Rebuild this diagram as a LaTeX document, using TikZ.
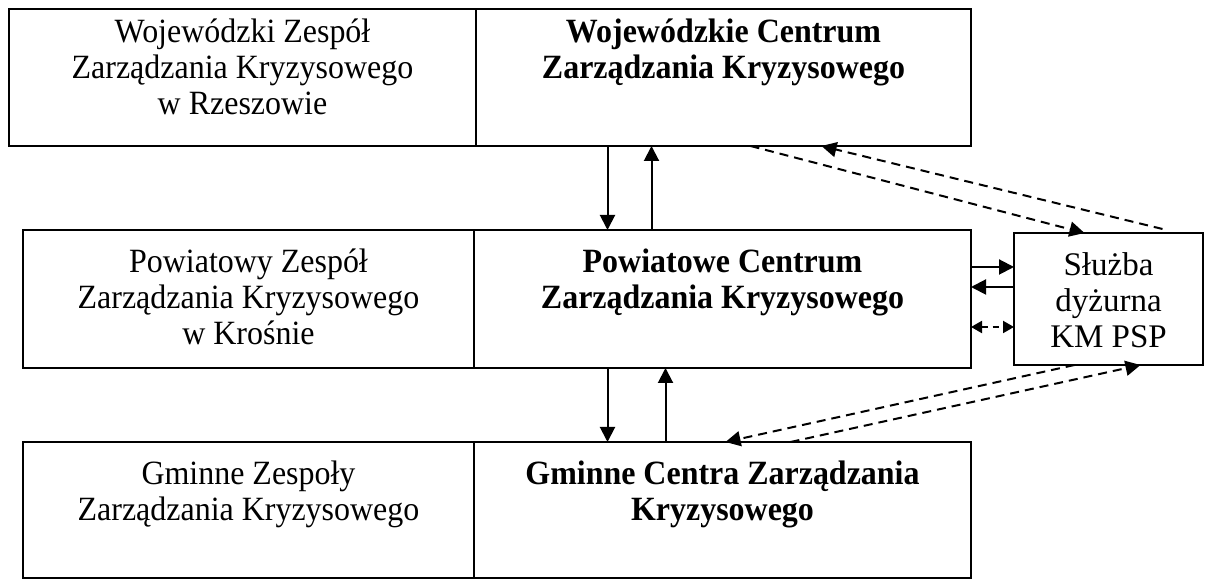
\documentclass[tikz,border=0pt]{standalone}
\usepackage{fontspec}
\setmainfont{Liberation Serif}
\newfontfamily\waski{Liberation Serif}[FakeStretch=0.94]
\usetikzlibrary{arrows.meta,positioning}

\begin{document}
\begin{tikzpicture}[x=1pt,y=1pt,
	blok/.style={draw, line width=2pt, inner sep=0pt, outer sep=0pt},
	napis/.style={align=center, inner sep=0pt, font=\waski\fontsize{34}{36}\selectfont},
	gruby/.style={napis, font=\waski\fontsize{34}{36}\selectfont\bfseries},
	strz/.style={line width=2pt, -{Triangle[width=15pt,length=15pt]}},
	przer/.style={line width=2pt, dash pattern=on 9pt off 6pt, -{Triangle[width=15pt,length=15pt]}}]
			%%%%% START %%%%%
			\useasboundingbox (0,0) rectangle (1208,580);
			
			% wojewodztwo
			\node[blok, minimum width=467pt, minimum height=137pt] (wzzk) at (242.5,502.5) {};
			\node[blok, minimum width=495pt, minimum height=137pt] (wczk) at (723.5,502.5) {};
			
			% powiat
			\node[blok, minimum width=451pt, minimum height=138pt] (pzzk) at (248.5,281) {};
			\node[blok, minimum width=497pt, minimum height=138pt] (pczk) at (722.5,281) {};
			\node[blok, minimum width=189pt, minimum height=132pt] (sd) at (1108.5,281) {};
			
			% gminy
			\node[blok, minimum width=451pt, minimum height=136pt] (gzzk) at (248.5,70) {};
			\node[blok, minimum width=497pt, minimum height=136pt] (gczk) at (722.5,70) {};
			
			% napisy
			\node[napis, below=10pt of wzzk.north] (wzzk-t) {Wojewódzki Zespół\\Zarządzania Kryzysowego\\w Rzeszowie};
			\node[gruby, below=10pt of wczk.north] (wczk-t) {Wojewódzkie Centrum\\Zarządzania Kryzysowego};
			\node[napis, below=19pt of pzzk.north] (pzzk-t) {Powiatowy Zespół\\Zarządzania Kryzysowego\\w Krośnie};
			\node[gruby, below=19pt of pczk.north] (pczk-t) {Powiatowe Centrum\\Zarządzania Kryzysowego};
			\node[napis, below=19pt of gzzk.north] (gzzk-t) {Gminne Zespoły\\Zarządzania Kryzysowego};
			\node[gruby, below=19pt of gczk.north] (gczk-t) {Gminne Centra Zarządzania\\Kryzysowego};
			\node[napis, font=\fontsize{33}{36}\selectfont, below=19pt of sd.north] (sd-t) {Służba\\dyżurna\\KM PSP};
			
			% pionowe
			\draw[strz] ([xshift=-116pt]wczk.south) -- ([xshift=-116pt]wczk.south |- pczk.north);
			\draw[strz] ([xshift=-72pt]wczk.south |- pczk.north) -- ([xshift=-72pt]wczk.south);
			\draw[strz] ([xshift=-115pt]pczk.south) -- ([xshift=-115pt]pczk.south |- gczk.north);
			\draw[strz] ([xshift=-57pt]pczk.south |- gczk.north) -- ([xshift=-57pt]pczk.south);
			
			% poziome
			\draw[strz] ([yshift=32pt]pczk.east) -- ([yshift=32pt]pczk.east -| sd.west);
			\draw[strz] ([yshift=12pt]pczk.east -| sd.west) -- ([yshift=12pt]pczk.east);
			\draw[przer, dash pattern=on 6pt off 5pt, {Triangle[width=12pt,length=11pt]}-{Triangle[width=12pt,length=11pt]}] ([yshift=-28pt]pczk.east) -- ([yshift=-28pt]pczk.east -| sd.west);
			
			% przerywane
			\draw[przer] ([xshift=54pt,yshift=4pt]sd.north) -- ([xshift=98pt]wczk.south);
			\draw[przer] ([xshift=27pt]wczk.south) -- ([xshift=-24pt]sd.north);
			\draw[przer] ([xshift=-34pt]sd.south) -- ([xshift=3pt]gczk.north);
			\draw[przer] ([xshift=68pt]gczk.north) -- ([xshift=32pt]sd.south);
			
			%%%%% END %%%%%
\end{tikzpicture}
\end{document}
